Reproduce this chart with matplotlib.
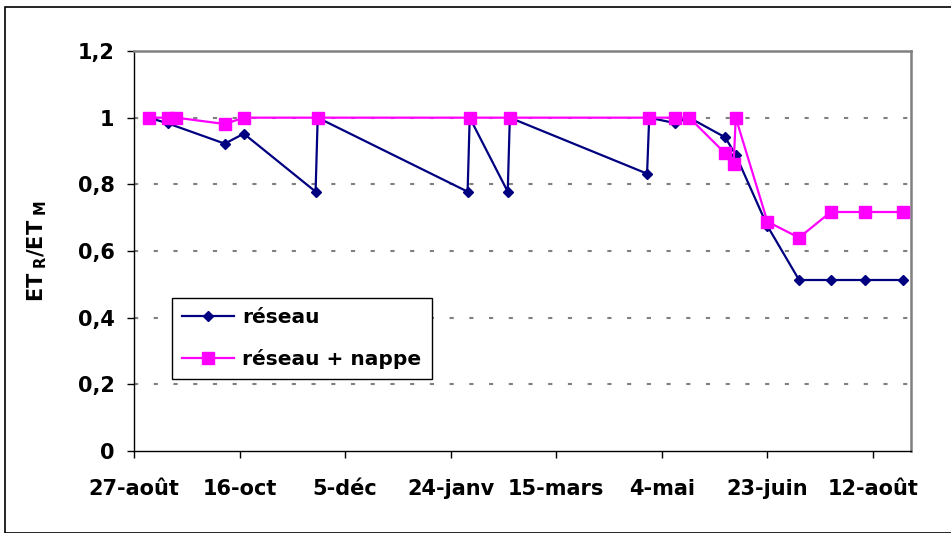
import matplotlib
matplotlib.use("Agg")
import matplotlib.pyplot as plt
import matplotlib.patches as mpatches
import pandas as pd

plt.rcParams['font.family'] = ['DejaVu Sans']
plt.rcParams['mathtext.fontset'] = 'dejavusans'
plt.rcParams['lines.scale_dashes'] = False

# ---- data ----
reseau_dates = ["2001-09-03", "2001-09-12", "2001-10-09", "2001-10-18", "2001-11-21",
                "2001-11-22", "2002-02-01", "2002-02-02", "2002-02-20", "2002-02-21",
                "2002-04-27", "2002-04-28", "2002-05-10", "2002-05-17", "2002-06-03",
                "2002-06-08", "2002-06-23", "2002-07-08", "2002-07-23", "2002-08-08",
                "2002-08-26"]
reseau_values = [1.0, 0.983, 0.922, 0.952, 0.778,
                 1.0, 0.778, 1.0, 0.778, 1.0,
                 0.832, 1.0, 0.984, 1.0, 0.941,
                 0.888, 0.675, 0.513, 0.513, 0.513,
                 0.513]

nappe_dates = ["2001-09-03", "2001-09-12", "2001-09-16", "2001-10-09", "2001-10-18",
               "2001-11-22", "2002-02-02", "2002-02-21", "2002-04-28", "2002-05-10",
               "2002-05-17", "2002-06-03", "2002-06-07", "2002-06-08", "2002-06-23",
               "2002-07-08", "2002-07-23", "2002-08-08", "2002-08-26"]
nappe_values = [1.0, 1.0, 1.0, 0.981, 1.0,
                1.0, 1.0, 1.0, 1.0, 1.0,
                1.0, 0.893, 0.861, 1.0, 0.688,
                0.64, 0.717, 0.717, 0.717]

x_tick_dates = ["2001-08-27", "2001-10-16", "2001-12-05", "2002-01-24",
                "2002-03-15", "2002-05-04", "2002-06-23", "2002-08-12"]
x_tick_labels = ["27-août", "16-oct", "5-déc", "24-janv",
                 "15-mars", "4-mai", "23-juin", "12-août"]
y_ticks = [0, 0.2, 0.4, 0.6, 0.8, 1.0, 1.2]
y_tick_labels = ["0", "0,2", "0,4", "0,6", "0,8", "1", "1,2"]
series_labels = ["réseau", "réseau + nappe"]
x_limits = ["2001-08-27", "2002-08-30"]

# ---- figure ----
W, H = 951, 533
fig = plt.figure(figsize=(W / 100, H / 100), dpi=100)
fig.patch.set_facecolor('white')

# outer chart frame
fig.patches.append(mpatches.Rectangle((5 / W, 0), 1.2, 1 - 7 / H, transform=fig.transFigure,
                                      fill=False, edgecolor='black', lw=1.2, clip_on=False))

ax = fig.add_axes([134 / W, 1 - 451 / H, (911 - 134) / W, (451 - 51) / H])

rd = pd.to_datetime(reseau_dates)
nd = pd.to_datetime(nappe_dates)

ax.plot(rd, reseau_values, color='#000080', lw=1.6, marker='D', markersize=5.6,
        markerfacecolor='#000080', markeredgecolor='#000080', label=series_labels[0], zorder=3)
ax.plot(nd, nappe_values, color='#FF00FF', lw=1.6, marker='s', markersize=9.2,
        markerfacecolor='#FF00FF', markeredgecolor='#FF00FF', label=series_labels[1], zorder=4)

ax.set_xlim(pd.to_datetime(x_limits[0]), pd.to_datetime(x_limits[1]))
ax.set_ylim(0, 1.2)

ax.set_xticks(pd.to_datetime(x_tick_dates))
ax.set_xticklabels(x_tick_labels, fontsize=15, fontweight='bold')
ax.set_yticks(y_ticks)
ax.set_yticklabels(y_tick_labels, fontsize=15, fontweight='bold')
ax.tick_params(axis='both', direction='out', length=5, width=1, color='black')
ax.tick_params(axis='y', pad=9)
ax.tick_params(axis='x', pad=15)

for yv in y_ticks[1:-1]:
    ax.axhline(yv, color='#808080', lw=1.5, linestyle=(0, (3, 11.2)), zorder=1)

for s in ['top', 'right']:
    ax.spines[s].set_color('#808080')
    ax.spines[s].set_linewidth(1.8)
for s in ['left', 'bottom']:
    ax.spines[s].set_color('black')
    ax.spines[s].set_linewidth(1.0)

ax.set_ylabel(r'ET$_{\ \mathbf{R}}$/ET$_{\ \mathbf{M}}$', fontsize=15, fontweight='bold')
ax.yaxis.set_label_coords((49 - 134) / (911 - 134), 0.5)

leg = ax.legend(loc='upper left', bbox_to_anchor=(172 / W, 1 - 298 / H),
                bbox_transform=fig.transFigure, borderaxespad=0, fancybox=False,
                frameon=True, edgecolor='black', framealpha=1,
                prop={'weight': 'bold', 'size': 14.5}, handlelength=2.6,
                handletextpad=0.4, labelspacing=1.1, borderpad=0.5)
leg.get_frame().set_linewidth(1.0)

fig.savefig('out.png', dpi=100, facecolor='white')
